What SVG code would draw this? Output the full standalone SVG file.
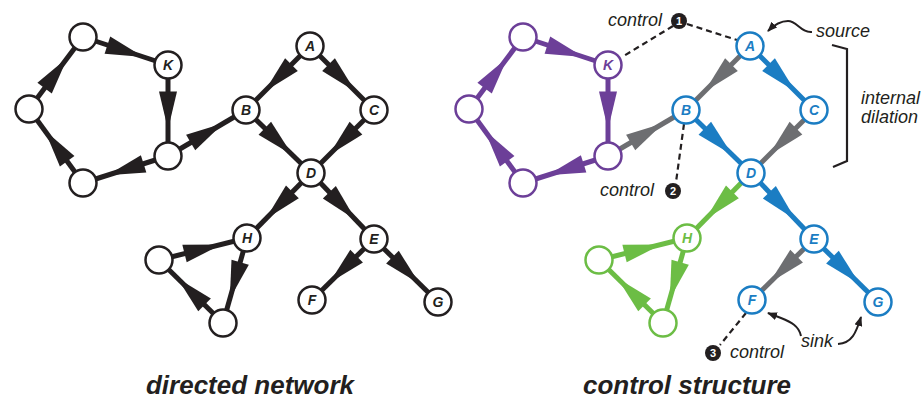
<svg xmlns="http://www.w3.org/2000/svg" xmlns:xlink="http://www.w3.org/1999/xlink" width="923" height="399" viewBox="0 0 923 399">
  <style>
    .bg { fill: #ffffff; }
    .edge { stroke-width: 5; fill: none; }
    .k { stroke: #231f20; fill: #231f20; }
    .pu { stroke: #6c3f98; fill: #6c3f98; }
    .bl { stroke: #1b7dc3; fill: #1b7dc3; }
    .gy { stroke: #6d6e71; fill: #6d6e71; }
    .gr { stroke: #6cbd45; fill: #6cbd45; }
    .head { stroke: none; }
    .node { fill: #ffffff; stroke-width: 2.5; }
    .nk { stroke: #231f20; }
    .npu { stroke: #6c3f98; }
    .nbl { stroke: #1b7dc3; }
    .ngr { stroke: #6cbd45; }
    .lbl { font-family: "Liberation Sans", Arial, Helvetica, sans-serif; font-size: 14px; font-weight: bold; font-style: italic; text-anchor: middle; }
    .note { font-family: "Liberation Sans", Arial, Helvetica, sans-serif; font-size: 18px; font-style: italic; fill: #231f20; }
    .title { font-family: "Liberation Sans", Arial, Helvetica, sans-serif; font-size: 26px; font-weight: bold; font-style: italic; fill: #231f20; text-anchor: middle; }
    .dash { stroke: #231f20; stroke-width: 2.2; stroke-dasharray: 6 4; fill: none; }
    .pointer { stroke: #231f20; stroke-width: 2; fill: none; marker-end: url(#tip); }
    .badge { fill: #231f20; }
    .num { font-family: "Liberation Sans", Arial, Helvetica, sans-serif; font-size: 11px; font-weight: bold; fill: #ffffff; text-anchor: middle; }
  </style>
  <defs>
    <!-- long narrow arrowhead, tip at the origin, pointing along +x -->
    <path id="ah" d="M0,0 L-38,-9 L-38,9 Z"/>
    <marker id="tip" viewBox="0 0 10 8" refX="9" refY="4" markerWidth="10" markerHeight="8" markerUnits="userSpaceOnUse" orient="auto">
      <path d="M0,0 L10,4 L0,8 Z" fill="#231f20"/>
    </marker>
  </defs>

  <rect class="bg" x="0" y="0" width="923" height="399"/>

  <!-- ===== directed network ===== -->
  <g id="left-connectors">
    <g class="k">
      <line class="edge" x1="83" y1="37" x2="168" y2="65"/>
      <use xlink:href="#ah" class="head" transform="translate(143.5,57) rotate(18.2)"/>
      <line class="edge" x1="168" y1="65" x2="168" y2="156"/>
      <use xlink:href="#ah" class="head" transform="translate(168,129.5) rotate(90)"/>
      <line class="edge" x1="168" y1="156" x2="83" y2="183"/>
      <use xlink:href="#ah" class="head" transform="translate(107.4,175.3) rotate(162.4)"/>
      <line class="edge" x1="83" y1="183" x2="29" y2="109"/>
      <use xlink:href="#ah" class="head" transform="translate(44.8,130.6) rotate(-126.1)"/>
      <line class="edge" x1="29" y1="109" x2="83" y2="37"/>
      <use xlink:href="#ah" class="head" transform="translate(67.4,57.8) rotate(-53.1)"/>
      <line class="edge" x1="168" y1="156" x2="246" y2="110"/>
      <use xlink:href="#ah" class="head" transform="translate(223.4,123.3) rotate(-30.5)"/>
      <line class="edge" x1="310" y1="46" x2="246" y2="110"/>
      <use xlink:href="#ah" class="head" transform="translate(264.6,91.4) rotate(135)"/>
      <line class="edge" x1="310" y1="46" x2="374" y2="110"/>
      <use xlink:href="#ah" class="head" transform="translate(355.4,91.4) rotate(45)"/>
      <line class="edge" x1="246" y1="110" x2="311" y2="173"/>
      <use xlink:href="#ah" class="head" transform="translate(292.1,154.7) rotate(44.1)"/>
      <line class="edge" x1="374" y1="110" x2="311" y2="173"/>
      <use xlink:href="#ah" class="head" transform="translate(329.1,154.9) rotate(135)"/>
      <line class="edge" x1="311" y1="173" x2="247" y2="238"/>
      <use xlink:href="#ah" class="head" transform="translate(265.7,219) rotate(134.6)"/>
      <line class="edge" x1="311" y1="173" x2="374" y2="239"/>
      <use xlink:href="#ah" class="head" transform="translate(355.6,219.8) rotate(46.3)"/>
      <line class="edge" x1="374" y1="239" x2="312" y2="300"/>
      <use xlink:href="#ah" class="head" transform="translate(329.5,282.8) rotate(135.5)"/>
      <line class="edge" x1="374" y1="239" x2="438" y2="302"/>
      <use xlink:href="#ah" class="head" transform="translate(419.5,283.8) rotate(44.6)"/>
      <line class="edge" x1="159" y1="260" x2="247" y2="238"/>
      <use xlink:href="#ah" class="head" transform="translate(221.4,244.4) rotate(-14)"/>
      <line class="edge" x1="247" y1="238" x2="223" y2="323"/>
      <use xlink:href="#ah" class="head" transform="translate(229.8,298.8) rotate(105.8)"/>
      <line class="edge" x1="223" y1="323" x2="159" y2="260"/>
      <use xlink:href="#ah" class="head" transform="translate(177.5,278.2) rotate(-135.4)"/>
    </g>
  </g>

  <g id="left-nodes">
    <g id="dn-loop1"><circle class="node nk" cx="83" cy="37" r="13.5"/></g>
    <g id="dn-K"><circle class="node nk" cx="168" cy="65" r="13.5"/><text class="lbl" x="168" y="70" fill="#231f20">K</text></g>
    <g id="dn-loop2"><circle class="node nk" cx="29" cy="109" r="13.5"/></g>
    <g id="dn-loop3"><circle class="node nk" cx="168" cy="156" r="13.5"/></g>
    <g id="dn-loop4"><circle class="node nk" cx="83" cy="183" r="13.5"/></g>
    <g id="dn-A"><circle class="node nk" cx="310" cy="46" r="13.5"/><text class="lbl" x="310" y="51" fill="#231f20">A</text></g>
    <g id="dn-B"><circle class="node nk" cx="246" cy="110" r="13.5"/><text class="lbl" x="246" y="115" fill="#231f20">B</text></g>
    <g id="dn-C"><circle class="node nk" cx="374" cy="110" r="13.5"/><text class="lbl" x="374" y="115" fill="#231f20">C</text></g>
    <g id="dn-D"><circle class="node nk" cx="311" cy="173" r="13.5"/><text class="lbl" x="311" y="178" fill="#231f20">D</text></g>
    <g id="dn-H"><circle class="node nk" cx="247" cy="238" r="13.5"/><text class="lbl" x="247" y="243" fill="#231f20">H</text></g>
    <g id="dn-E"><circle class="node nk" cx="374" cy="239" r="13.5"/><text class="lbl" x="374" y="244" fill="#231f20">E</text></g>
    <g id="dn-F"><circle class="node nk" cx="312" cy="300" r="13.5"/><text class="lbl" x="312" y="305" fill="#231f20">F</text></g>
    <g id="dn-G"><circle class="node nk" cx="438" cy="302" r="13.5"/><text class="lbl" x="438" y="307" fill="#231f20">G</text></g>
    <g id="dn-tri1"><circle class="node nk" cx="159" cy="260" r="13.5"/></g>
    <g id="dn-tri2"><circle class="node nk" cx="223" cy="323" r="13.5"/></g>
  </g>

  <!-- ===== control structure (same layout, shifted right) ===== -->
  <g id="right-connectors" transform="translate(440,0)">
    <g class="pu">
      <line class="edge" x1="83" y1="37" x2="168" y2="65"/>
      <use xlink:href="#ah" class="head" transform="translate(143.5,57) rotate(18.2)"/>
      <line class="edge" x1="168" y1="65" x2="168" y2="156"/>
      <use xlink:href="#ah" class="head" transform="translate(168,129.5) rotate(90)"/>
      <line class="edge" x1="168" y1="156" x2="83" y2="183"/>
      <use xlink:href="#ah" class="head" transform="translate(107.4,175.3) rotate(162.4)"/>
      <line class="edge" x1="83" y1="183" x2="29" y2="109"/>
      <use xlink:href="#ah" class="head" transform="translate(44.8,130.6) rotate(-126.1)"/>
      <line class="edge" x1="29" y1="109" x2="83" y2="37"/>
      <use xlink:href="#ah" class="head" transform="translate(67.4,57.8) rotate(-53.1)"/>
    </g>
    <g class="gy">
      <line class="edge" x1="168" y1="156" x2="246" y2="110"/>
      <use xlink:href="#ah" class="head" transform="translate(223.4,123.3) rotate(-30.5)"/>
      <line class="edge" x1="310" y1="46" x2="246" y2="110"/>
      <use xlink:href="#ah" class="head" transform="translate(264.6,91.4) rotate(135)"/>
      <line class="edge" x1="374" y1="110" x2="311" y2="173"/>
      <use xlink:href="#ah" class="head" transform="translate(329.1,154.9) rotate(135)"/>
      <line class="edge" x1="374" y1="239" x2="312" y2="300"/>
      <use xlink:href="#ah" class="head" transform="translate(329.5,282.8) rotate(135.5)"/>
    </g>
    <g class="bl">
      <line class="edge" x1="310" y1="46" x2="374" y2="110"/>
      <use xlink:href="#ah" class="head" transform="translate(355.4,91.4) rotate(45)"/>
      <line class="edge" x1="246" y1="110" x2="311" y2="173"/>
      <use xlink:href="#ah" class="head" transform="translate(292.1,154.7) rotate(44.1)"/>
      <line class="edge" x1="311" y1="173" x2="374" y2="239"/>
      <use xlink:href="#ah" class="head" transform="translate(355.6,219.8) rotate(46.3)"/>
      <line class="edge" x1="374" y1="239" x2="438" y2="302"/>
      <use xlink:href="#ah" class="head" transform="translate(419.5,283.8) rotate(44.6)"/>
    </g>
    <g class="gr">
      <line class="edge" x1="311" y1="173" x2="247" y2="238"/>
      <use xlink:href="#ah" class="head" transform="translate(265.7,219) rotate(134.6)"/>
      <line class="edge" x1="159" y1="260" x2="247" y2="238"/>
      <use xlink:href="#ah" class="head" transform="translate(221.4,244.4) rotate(-14)"/>
      <line class="edge" x1="247" y1="238" x2="223" y2="323"/>
      <use xlink:href="#ah" class="head" transform="translate(229.8,298.8) rotate(105.8)"/>
      <line class="edge" x1="223" y1="323" x2="159" y2="260"/>
      <use xlink:href="#ah" class="head" transform="translate(177.5,278.2) rotate(-135.4)"/>
    </g>
  </g>

  <!-- control pointers and annotations -->
  <g id="annotations">
    <line class="dash" x1="673" y1="26" x2="622" y2="57"/>
    <line class="dash" x1="687" y1="24" x2="737" y2="40"/>
    <line class="dash" x1="684" y1="124" x2="676" y2="182"/>
    <line class="dash" x1="746" y1="313" x2="720" y2="345"/>
    <path class="pointer" d="M812,32 C801,33 797,21 788,21 C780,21 774,25 768,31"/>
    <path class="pointer" d="M801,336 C799,326 791,322 781,318 L768,313"/>
    <path class="pointer" d="M838,344 C852,343 856,333 861,317"/>
    <path d="M832,45 L847,49 L847,161 L833,167" stroke="#231f20" stroke-width="2.2" fill="none"/>
    <text class="note" x="608" y="26">control</text>
    <text class="note" x="600" y="196">control</text>
    <text class="note" x="730" y="358">control</text>
    <text class="note" x="816" y="37">source</text>
    <text class="note" x="861" y="104">internal</text>
    <text class="note" x="861" y="123">dilation</text>
    <text class="note" x="801" y="347">sink</text>
  </g>

  <g id="badge-1"><circle class="badge" cx="679" cy="21" r="8"/><text class="num" x="679" y="25">1</text></g>
  <g id="badge-2"><circle class="badge" cx="673" cy="191" r="8"/><text class="num" x="673" y="195">2</text></g>
  <g id="badge-3"><circle class="badge" cx="713" cy="353" r="8"/><text class="num" x="713" y="357">3</text></g>

  <g id="right-nodes" transform="translate(440,0)">
    <g id="cs-loop1"><circle class="node npu" cx="83" cy="37" r="13.5"/></g>
    <g id="cs-K"><circle class="node npu" cx="168" cy="65" r="13.5"/><text class="lbl" x="168" y="70" fill="#6c3f98">K</text></g>
    <g id="cs-loop2"><circle class="node npu" cx="29" cy="109" r="13.5"/></g>
    <g id="cs-loop3"><circle class="node npu" cx="168" cy="156" r="13.5"/></g>
    <g id="cs-loop4"><circle class="node npu" cx="83" cy="183" r="13.5"/></g>
    <g id="cs-A"><circle class="node nbl" cx="310" cy="46" r="13.5"/><text class="lbl" x="310" y="51" fill="#1b7dc3">A</text></g>
    <g id="cs-B"><circle class="node nbl" cx="246" cy="110" r="13.5"/><text class="lbl" x="246" y="115" fill="#1b7dc3">B</text></g>
    <g id="cs-C"><circle class="node nbl" cx="374" cy="110" r="13.5"/><text class="lbl" x="374" y="115" fill="#1b7dc3">C</text></g>
    <g id="cs-D"><circle class="node nbl" cx="311" cy="173" r="13.5"/><text class="lbl" x="311" y="178" fill="#1b7dc3">D</text></g>
    <g id="cs-H"><circle class="node ngr" cx="247" cy="238" r="13.5"/><text class="lbl" x="247" y="243" fill="#6cbd45">H</text></g>
    <g id="cs-E"><circle class="node nbl" cx="374" cy="239" r="13.5"/><text class="lbl" x="374" y="244" fill="#1b7dc3">E</text></g>
    <g id="cs-F"><circle class="node nbl" cx="312" cy="300" r="13.5"/><text class="lbl" x="312" y="305" fill="#1b7dc3">F</text></g>
    <g id="cs-G"><circle class="node nbl" cx="438" cy="302" r="13.5"/><text class="lbl" x="438" y="307" fill="#1b7dc3">G</text></g>
    <g id="cs-tri1"><circle class="node ngr" cx="159" cy="260" r="13.5"/></g>
    <g id="cs-tri2"><circle class="node ngr" cx="223" cy="323" r="13.5"/></g>
  </g>

  <text class="title" x="250" y="394">directed network</text>
  <text class="title" x="687" y="394">control structure</text>
</svg>
